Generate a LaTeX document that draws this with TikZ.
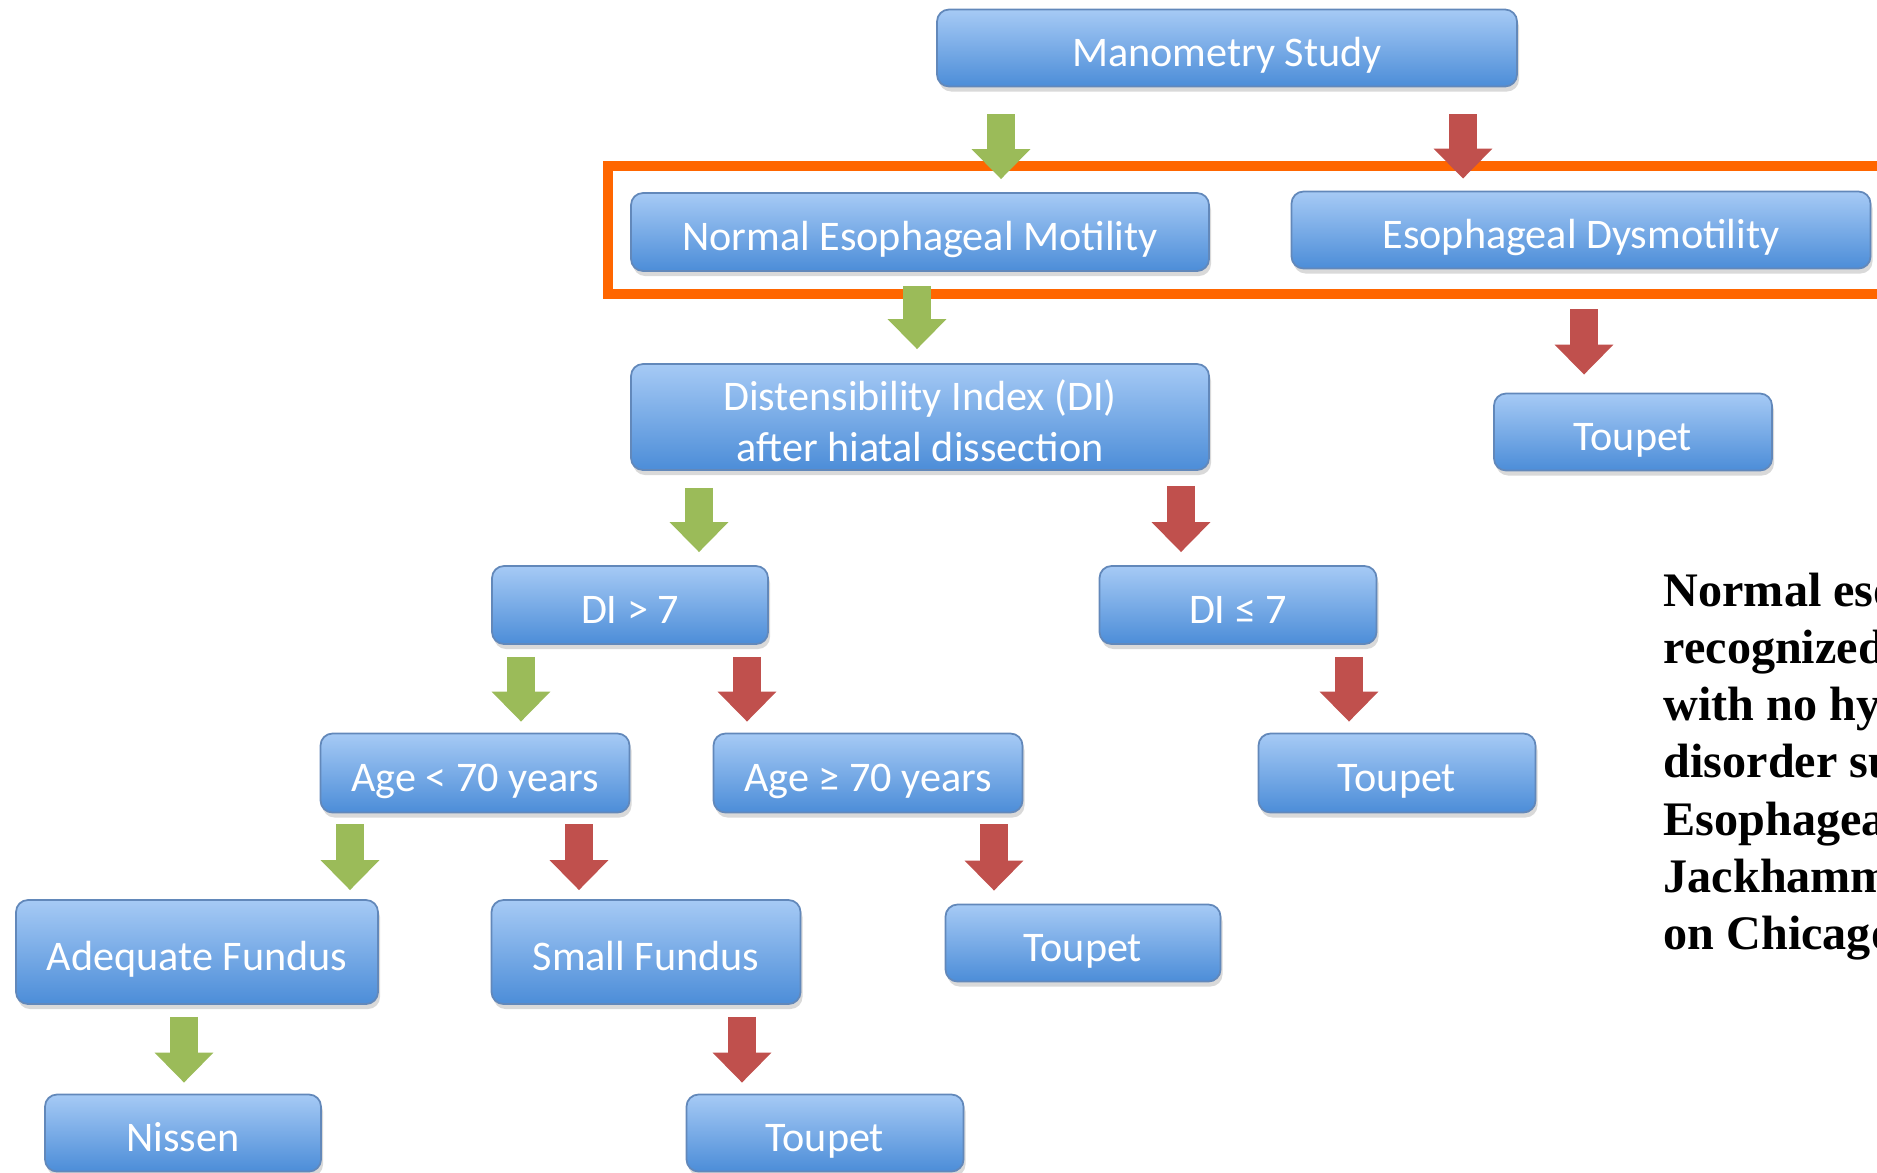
\documentclass[tikz,border=0pt]{standalone}
\usepackage{fontspec}
\setmainfont{Carlito}
\newfontfamily\notefont{Liberation Serif}
\usetikzlibrary{arrows.meta,shadows}

\definecolor{boxtop}{RGB}{166,202,245}
\definecolor{boxbot}{RGB}{76,141,216}
\definecolor{boxline}{RGB}{98,136,186}
\definecolor{yesgreen}{RGB}{155,187,89}
\definecolor{nored}{RGB}{192,80,77}
\definecolor{hilite}{RGB}{255,102,0}

\tikzset{
  stage/.style={draw=boxline, line width=0.5pt, rounded corners=0.12cm,
    top color=boxtop, bottom color=boxbot, text=white, align=center,
    inner sep=0pt, text height=0.36cm, text depth=0pt,
    font=\fontsize{12}{14.5}\selectfont,
    drop shadow={opacity=0.3, shadow xshift=0.02cm, shadow yshift=-0.05cm}},
  yesarrow/.style={yesgreen, line width=0.28cm, shorten <=0.12cm, shorten >=0.11cm,
    -{Triangle[width=0.57cm,length=0.30cm]}},
  noarrow/.style={nored, line width=0.28cm, shorten <=0.12cm, shorten >=0.11cm,
    -{Triangle[width=0.57cm,length=0.30cm]}}
}

\begin{document}
\begin{tikzpicture}
  \useasboundingbox (0,0) rectangle (18.77,-11.72);
  \clip (0,0) rectangle (18.77,-11.72);

  \node[stage, minimum width=5.80cm, minimum height=0.77cm] (mano) at (12.27,-0.48) {Manometry Study};
  \node[stage, minimum width=5.78cm, minimum height=0.78cm] (nem) at (9.20,-2.32) {Normal Esophageal Motility};
  \node[stage, minimum width=5.79cm, minimum height=0.77cm] (dys) at (15.81,-2.30) {Esophageal Dysmotility};
  \node[stage, minimum width=5.78cm, minimum height=1.06cm, text height=0.88cm] (dist) at (9.20,-4.17) {Distensibility Index (DI)\\after hiatal dissection};
  \node[stage, minimum width=2.78cm, minimum height=0.77cm] (toupetA) at (16.33,-4.32) {Toupet};

  \node[stage, minimum width=2.76cm, minimum height=0.78cm] (dihigh) at (6.30,-6.05) {DI > 7};
  \node[stage, minimum width=2.77cm, minimum height=0.78cm] (dilow) at (12.38,-6.05) {DI ≤ 7};

  \node[stage, minimum width=3.09cm, minimum height=0.79cm] (ageyoung) at (4.75,-7.73) {Age < 70 years};
  \node[stage, minimum width=3.09cm, minimum height=0.79cm] (ageold) at (8.68,-7.73) {Age ≥ 70 years};
  \node[stage, minimum width=2.77cm, minimum height=0.79cm] (toupetB) at (13.97,-7.73) {Toupet};

  \node[stage, minimum width=3.62cm, minimum height=1.04cm] (adeq) at (1.97,-9.52) {Adequate Fundus};
  \node[stage, minimum width=3.09cm, minimum height=1.04cm] (small) at (6.46,-9.52) {Small Fundus};
  \node[stage, minimum width=2.75cm, minimum height=0.77cm] (toupetC) at (10.83,-9.43) {Toupet};

  \node[stage, minimum width=2.76cm, minimum height=0.77cm] (nissen) at (1.83,-11.33) {Nissen};
  \node[stage, minimum width=2.77cm, minimum height=0.77cm] (toupetD) at (8.25,-11.33) {Toupet};

  % highlight frame
  \draw[hilite, line width=0.10cm] (6.08,-1.66) rectangle (19.2,-2.94);

  \draw[yesarrow, shorten <=0.27cm, shorten >=0.13cm] (mano.south -| 10.01,0) -- (nem.north -| 10.01,0);
  \draw[noarrow, shorten <=0.27cm, shorten >=0.12cm] (mano.south -| 14.63,0) -- (dys.north -| 14.63,0);
  \draw[yesarrow, shorten <=0.14cm, shorten >=0.14cm] (nem.south -| 9.17,0) -- (dist.north -| 9.17,0);
  \draw[noarrow, shorten <=0.40cm, shorten >=0.18cm] (dys.south -| 15.84,0) -- (toupetA.north -| 15.84,0);
  \draw[yesarrow, shorten <=0.17cm, shorten >=0.13cm] (dist.south -| 6.99,0) -- (dihigh.north -| 6.99,0);
  \draw[noarrow, shorten <=0.15cm, shorten >=0.13cm] (dist.south -| 11.81,0) -- (dilow.north -| 11.81,0);
  \draw[yesarrow] (dihigh.south -| 5.21,0) -- (ageyoung.north -| 5.21,0);
  \draw[noarrow] (dihigh.south -| 7.47,0) -- (ageold.north -| 7.47,0);
  \draw[noarrow] (dilow.south -| 13.49,0) -- (toupetB.north -| 13.49,0);
  \draw[yesarrow, shorten <=0.11cm, shorten >=0.09cm] (ageyoung.south -| 3.50,0) -- (adeq.north -| 3.50,0);
  \draw[noarrow, shorten <=0.11cm, shorten >=0.09cm] (ageyoung.south -| 5.79,0) -- (small.north -| 5.79,0);
  \draw[noarrow, shorten <=0.11cm, shorten >=0.13cm] (ageold.south -| 9.94,0) -- (toupetC.north -| 9.94,0);
  \draw[yesarrow] (adeq.south -| 1.84,0) -- (nissen.north -| 1.84,0);
  \draw[noarrow] (small.south -| 7.42,0) -- (toupetD.north -| 7.42,0);

  % side note, cut by the right edge
  \node[anchor=north west, align=left, inner sep=0pt, font=\notefont\bfseries\fontsize{13.7}{16.3}\selectfont] (note) at (16.63,-5.72)
    {Normal eso\\recognized\\with no hy\\disorder su\\Esophagea\\Jackhamm\\on Chicago};

\end{tikzpicture}
\end{document}
